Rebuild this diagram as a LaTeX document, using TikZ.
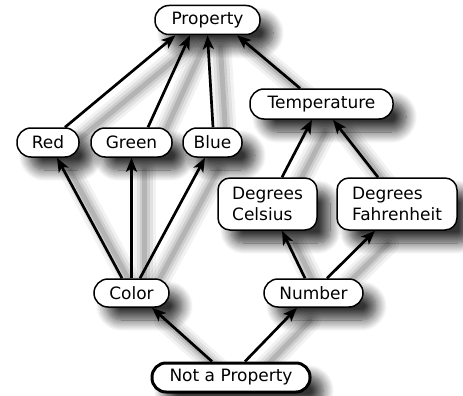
\documentclass[tikz,border=0pt]{standalone}
\usepackage{fontspec}
\setmainfont{DejaVu Sans}
\usetikzlibrary{arrows.meta,shadows.blur}
\pgfdeclarelayer{bg}
\pgfsetlayers{bg,main}
\tikzset{
  concept/.style={draw=black, line width=1.5pt, fill=white, rounded corners=14pt,
    minimum height=29pt, inner sep=0pt, font=\fontsize{17}{21}\selectfont,
    blur shadow={shadow xshift=13pt, shadow yshift=-13pt, shadow blur radius=11pt, shadow blur steps=12, shadow opacity=80}},
  tallconcept/.style={concept, rounded corners=12pt, minimum height=52pt, align=left},
  rootconcept/.style={concept, line width=3pt},
  isa/.style={line width=2.7pt, -{Stealth[length=14pt,width=11pt,inset=3.5pt]}},
  isashadow/.style={line cap=round, draw=black, transform canvas={xshift=13pt,yshift=-13pt}},
}
\begin{document}
\begin{tikzpicture}[x=1pt,y=-1pt]
\useasboundingbox (0,0) rectangle (463,396);
\node[concept, minimum width=105pt] (property) at (207.5,20) {Property};
\node[concept, minimum width=62pt] (red) at (48,142.5) {Red};
\node[concept, minimum width=81pt] (green) at (131.5,142.5) {Green};
\node[concept, minimum width=59pt] (blue) at (212.5,142.5) {Blue};
\node[concept, minimum width=143pt, minimum height=30pt] (temp) at (321.5,104) {Temperature};
\node[tallconcept, minimum width=99pt] (celsius) at (267.5,204) {Degrees\\Celsius};
\node[tallconcept, minimum width=120pt] (fahr) at (397,204) {Degrees\\Fahrenheit};
\node[concept, minimum width=75pt, minimum height=28pt] (color) at (131.5,293) {Color};
\node[concept, minimum width=99pt, minimum height=28pt] (number) at (313.5,293) {Number};
\node[rootconcept, minimum width=158pt] (notprop) at (231,377.5) {Not a Property};

\newcommand\isaedge[2]{%
  \begin{pgfonlayer}{bg}
    \draw[isashadow, line width=22pt, opacity=0.05] #1 -- #2;
    \draw[isashadow, line width=16pt, opacity=0.07] #1 -- #2;
    \draw[isashadow, line width=10pt, opacity=0.09] #1 -- #2;
    \draw[isashadow, line width=5pt, opacity=0.12] #1 -- #2;
  \end{pgfonlayer}
  \draw[isa] #1 -- #2;}

\isaedge{([xshift=17pt]red.north)}{([xshift=-32pt]property.south)}
\isaedge{([xshift=16.5pt]green.north)}{([xshift=-17.5pt]property.south)}
\isaedge{([xshift=0.5pt]blue.north)}{(property.south)}
\isaedge{([xshift=-21.5pt]temp.north)}{([xshift=29.5pt]property.south)}
\isaedge{([xshift=-9.5pt]color.north)}{([xshift=9pt]red.south)}
\isaedge{(color.north)}{(green.south)}
\isaedge{([xshift=8.5pt]color.north)}{([xshift=-7.5pt]blue.south)}
\isaedge{([xshift=-8.5pt]number.north)}{([xshift=14.5pt]celsius.south)}
\isaedge{([xshift=13.5pt]number.north)}{([xshift=-22pt]fahr.south)}
\isaedge{([xshift=14.5pt]celsius.north)}{([xshift=-9.5pt]temp.south)}
\isaedge{([xshift=-19pt]fahr.north)}{([xshift=11.5pt]temp.south)}
\isaedge{([xshift=-19pt]notprop.north)}{([xshift=20.5pt]color.south)}
\isaedge{([xshift=14pt]notprop.north)}{([xshift=-16.5pt]number.south)}
\end{tikzpicture}
\end{document}
